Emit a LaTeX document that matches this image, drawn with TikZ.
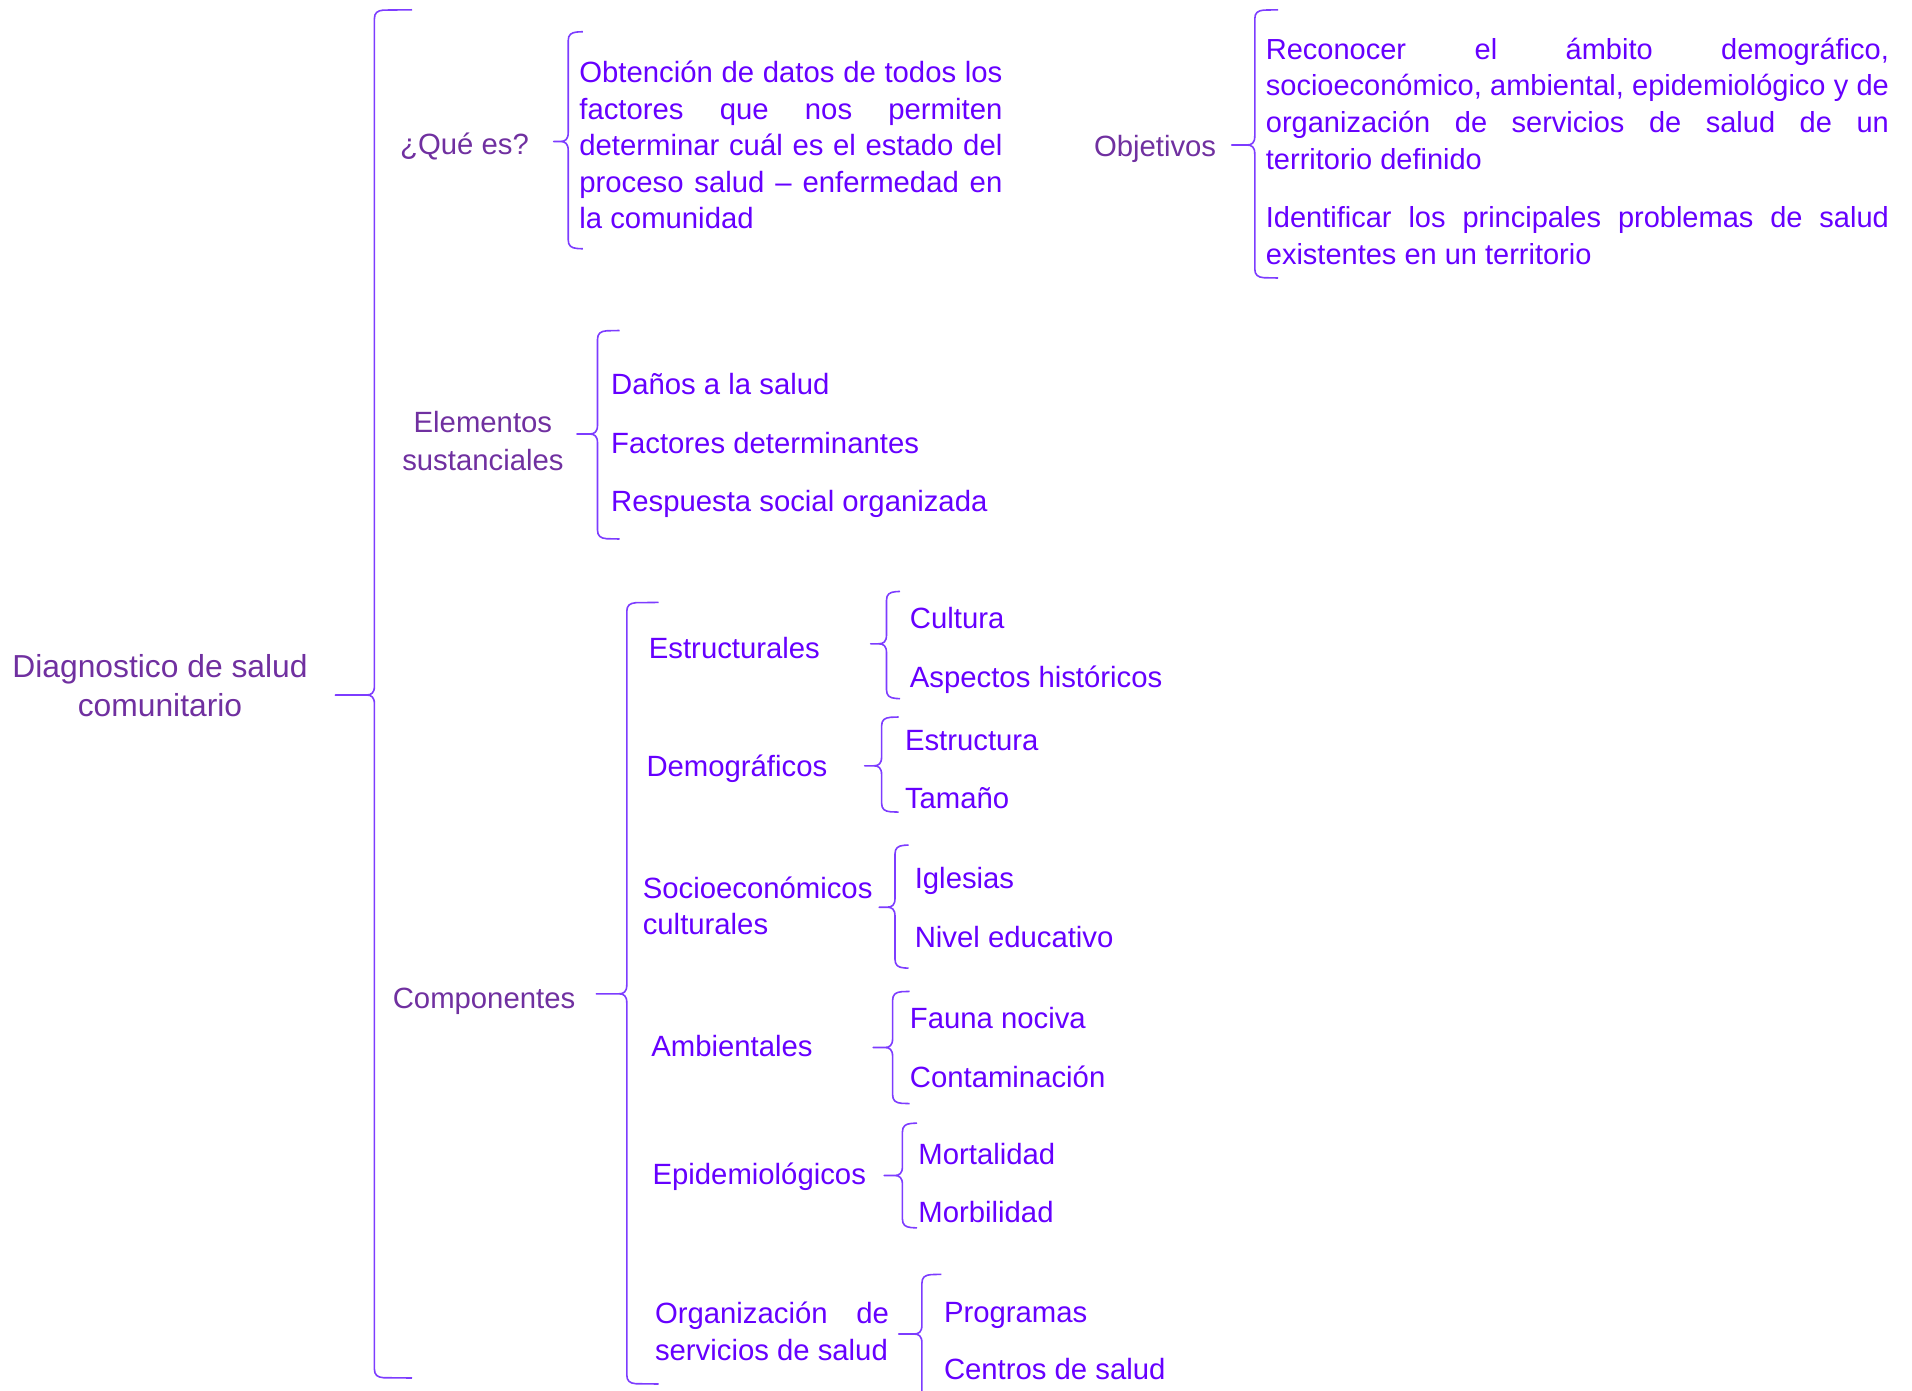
\documentclass[tikz,border=0pt]{standalone}
\usepackage{fontspec}
\setmainfont{Liberation Sans}
\definecolor{dark}{RGB}{112,48,160}
\definecolor{vio}{RGB}{102,0,255}
\definecolor{brc}{RGB}{125,60,255}
\tolerance=10000 \hbadness=10000 \hyphenpenalty=10000 \exhyphenpenalty=10000
% #1 X, #2 top, #3 bottom, #4 tip x, #5 tip y, #6 hook end x
\newcommand\mybrace[6]{%
  \draw[bracestyle] (#6,#2) -- (#1+9,#2+0.3) .. controls (#1+3,#2+0.8) and (#1,#2+3) .. (#1,#2+9)
    -- (#1,#5-9) .. controls (#1,#5-2) and (#1-3,#5) .. (#1-8,#5) -- (#4,#5)
    -- (#1-8,#5) .. controls (#1-3,#5) and (#1,#5+2) .. (#1,#5+9)
    -- (#1,#3-9) .. controls (#1,#3-3) and (#1+3,#3-0.8) .. (#1+9,#3-0.3) -- (#6,#3);}
\begin{document}
\begin{tikzpicture}[x=1pt,y=-1pt,
  bracestyle/.style={draw=brc,line width=1.6pt,line join=round},
  lab/.style={text=dark,inner sep=0pt,font=\fontsize{29.3}{36.6}\selectfont},
  itm/.style={text=vio,inner sep=0pt,font=\fontsize{29.3}{36.6}\selectfont}]
\useasboundingbox (0,0) rectangle (1912,1391);
\clip (0,0) rectangle (1912,1391);

% root (base anchor = last line)
\node[lab,font=\fontsize{31.8}{39}\selectfont,anchor=base,align=center] (diag) at (160,716) {Diagnostico de salud\\comunitario};
\mybrace{374.4}{9.8}{1378}{335.3}{695}{412}

% Que es
\node[lab,anchor=base west] (que) at (400,154.5) {¿Qué es?};
\mybrace{568.2}{31.7}{248.8}{553.6}{141.5}{582.9}
\node[itm,anchor=base west,text width=423pt,align=justify] (obt) at (579.2,82.5)
 {Obtención de datos de todos los\linebreak factores que nos permiten\linebreak determinar cuál es el estado del\linebreak proceso salud – enfermedad en\linebreak la comunidad};

% Objetivos
\node[lab,anchor=base west] (obj) at (1093.8,157) {Objetivos};
\mybrace{1254.8}{9.8}{278}{1231.6}{145}{1278}
\node[itm,font=\fontsize{29}{36.6}\selectfont,anchor=base west,text width=623pt,align=justify] (objtxt) at (1265.7,59.3)
 {Reconocer el ámbito demográfico,\linebreak socioeconómico, ambiental, epidemiológico y de\linebreak organización de servicios de salud de un\linebreak territorio definido\par\vspace{21.9pt}
 Identificar los principales problemas de salud\linebreak existentes en un territorio};

% Elementos sustanciales
\node[lab,font=\fontsize{29.3}{37.8}\selectfont,anchor=base,align=center] (elem) at (482.9,470.2) {Elementos\\sustanciales};
\mybrace{597.5}{330.5}{539}{576.8}{434}{619.5}
\node[itm,anchor=base west] (danos) at (611,394.6) {Daños a la salud};
\node[itm,anchor=base west] (fact) at (611,453.1) {Factores determinantes};
\node[itm,anchor=base west] (resp) at (611,511.7) {Respuesta social organizada};

% Componentes
\node[lab,anchor=base west] (comp) at (392.6,1008) {Componentes};
\mybrace{626.8}{602.4}{1384}{596.3}{993.8}{658.5}

% Estructurales
\node[itm,anchor=base west] (estr) at (648.7,658) {Estructurales};
\mybrace{886.5}{591.4}{698.7}{870.7}{643.8}{900}
\node[itm,anchor=base west] (cult) at (909.7,628.7) {Cultura};
\node[itm,anchor=base west] (asp) at (909.7,687.3) {Aspectos históricos};

% Demograficos
\node[itm,anchor=base west] (demo) at (646.3,776.3) {Demográficos};
\mybrace{881.6}{717}{812.1}{864.6}{765.8}{898.7}
\node[itm,anchor=base west] (estru) at (904.8,750.7) {Estructura};
\node[itm,anchor=base west] (tam) at (904.8,808) {Tamaño};

% Socioeconomicos
\node[itm,anchor=base west,align=left] (socio) at (642.6,934.8) {Socioeconómicos\\culturales};
\mybrace{895}{845}{968.2}{879.2}{907.2}{908.5}
\node[itm,anchor=base west] (igl) at (914.6,888.5) {Iglesias};
\node[itm,anchor=base west] (niv) at (914.6,947) {Nivel educativo};

% Ambientales
\node[itm,anchor=base west] (amb) at (651.2,1056.7) {Ambientales};
\mybrace{892.6}{991.4}{1103.6}{873.1}{1047.5}{909.7}
\node[itm,anchor=base west] (fau) at (909.7,1028.7) {Fauna nociva};
\node[itm,anchor=base west] (cont) at (909.7,1087.2) {Contaminación};

% Epidemiologicos
\node[itm,anchor=base west] (epi) at (652.4,1184.8) {Epidemiológicos};
\mybrace{902.4}{1123.1}{1227.9}{884.1}{1175.5}{917}
\node[itm,anchor=base west] (mort) at (918.2,1164.1) {Mortalidad};
\node[itm,anchor=base west] (morb) at (918.2,1222.6) {Morbilidad};

% Organizacion
\node[itm,anchor=base west,text width=234pt,align=justify] (org) at (654.8,1323.8) {Organización de\linebreak servicios de salud};
\mybrace{921.9}{1274.3}{1420}{898.7}{1334}{941.4}
\node[itm,anchor=base west] (prog) at (943.8,1322.6) {Programas};
\node[itm,anchor=base west] (cent) at (943.8,1379.9) {Centros de salud};
\end{tikzpicture}
\end{document}
